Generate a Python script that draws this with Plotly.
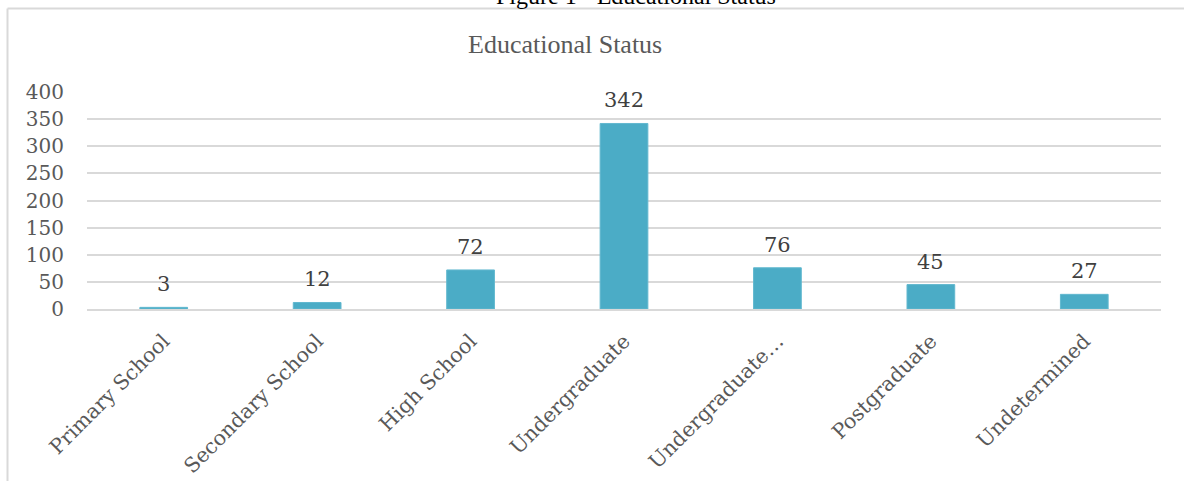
import plotly.graph_objects as go

categories = ["Primary School", "Secondary School", "High School", "Undergraduate",
              "Undergraduate…", "Postgraduate", "Undetermined"]
counts = [3, 12, 72, 342, 76, 45, 27]
y_ticks = [0, 50, 100, 150, 200, 250, 300, 350, 400]

W, H = 1184, 481
L, R, T, B = 87, 23, 92, 172
PW = W - L - R
PH = H - T - B

def px_x(p):
    return (p - L) / PW

def px_y(p):
    return (H - B - p) / PH

fig = go.Figure()
fig.add_trace(go.Bar(
    x=categories, y=counts,
    marker=dict(color="#4bacc6", line=dict(color="#62b8cf", width=1)),
    hoverinfo="x+y",
))

for c, v in zip(categories, counts):
    fig.add_annotation(
        x=c, y=v, xref="x", yref="y", text=str(v), showarrow=False,
        yanchor="bottom", yshift=9,
        font=dict(family="DejaVu Serif", size=21, color="#404040"),
    )

# chart title
fig.add_annotation(
    x=px_x(565), y=px_y(44), xref="paper", yref="paper",
    text="Educational Status", showarrow=False,
    xanchor="center", yanchor="middle",
    font=dict(family="Liberation Serif", size=26, color="#595959"),
)
# cut-off figure caption above the chart frame
fig.add_annotation(
    x=px_x(636), y=px_y(11), xref="paper", yref="paper",
    text="Figure 1 - Educational Status", showarrow=False,
    xanchor="center", yanchor="bottom",
    font=dict(family="Liberation Serif", size=24, color="#000000"),
)

# chart frame (left and top edges visible)
fig.add_shape(type="line", xref="paper", yref="paper",
              x0=px_x(7.5), x1=px_x(7.5), y0=px_y(8.5), y1=px_y(495),
              line=dict(color="#d9d9d9", width=2))
fig.add_shape(type="line", xref="paper", yref="paper",
              x0=px_x(7.5), x1=px_x(1195), y0=px_y(8.5), y1=px_y(8.5),
              line=dict(color="#d9d9d9", width=2))

fig.update_layout(
    width=W, height=H,
    margin=dict(l=L, r=R, t=T, b=B, pad=0, autoexpand=False),
    paper_bgcolor="white", plot_bgcolor="white",
    bargap=0.689,
    showlegend=False,
    xaxis=dict(
        tickangle=-45, showgrid=False, showline=True, linecolor="#d9d9d9", linewidth=2,
        ticks="", ticklabelstandoff=10, automargin=False,
        tickfont=dict(family="DejaVu Serif", size=20.5, color="#595959"),
    ),
    yaxis=dict(
        range=[0, 400], tickvals=y_ticks, showgrid=True, gridcolor="#d9d9d9", gridwidth=1.5,
        zeroline=False, showline=False, ticks="", ticklen=0, ticklabelstandoff=22,
        automargin=False,
        tickfont=dict(family="DejaVu Serif", size=20, color="#595959"),
    ),
)

fig.write_html("out.html")
